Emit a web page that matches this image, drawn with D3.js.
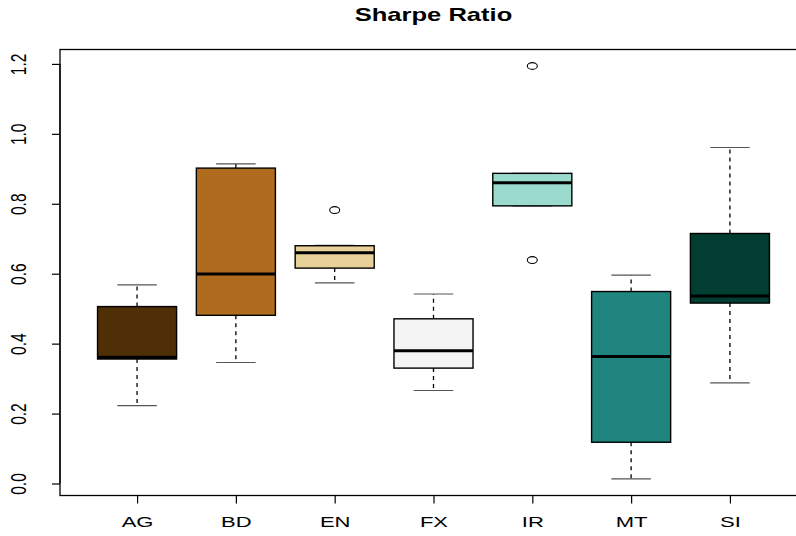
<!DOCTYPE html>
<html>
<head>
<meta charset="utf-8">
<script src="https://cdn.jsdelivr.net/npm/d3@7"></script>
<style>
  html, body { margin: 0; padding: 0; background: #fff; }
  svg { display: block; }
  text { font-family: "Liberation Sans", Arial, Helvetica, sans-serif; fill: #000; }
</style>
</head>
<body>
<svg id="chart" width="796" height="536"></svg>
<script>
// Sharpe ratio distribution per sector
const categories = ["AG", "BD", "EN", "FX", "IR", "MT", "SI"];
const whiskerLow = [0.223, 0.346, 0.574, 0.266, 0.794, 0.013, 0.288];
const q1         = [0.356, 0.481, 0.616, 0.330, 0.794, 0.118, 0.516];
const median     = [0.361, 0.599, 0.660, 0.380, 0.860, 0.363, 0.536];
const q3         = [0.506, 0.902, 0.680, 0.471, 0.887, 0.549, 0.715];
const whiskerHigh= [0.568, 0.914, 0.681, 0.542, 0.887, 0.596, 0.961];
const outliers   = [[], [], [0.782], [], [1.194, 0.639], [], []];
const fills = ["#4f3006", "#b06c1e", "#e7d199", "#f4f4f4", "#9adbcd", "#21857f", "#013d31"];
const yTicks = [0.0, 0.2, 0.4, 0.6, 0.8, 1.0, 1.2];
const title = "Sharpe Ratio";

const svg = d3.select("#chart");
const plotLeft = 60, plotRight = 807, plotTop = 49.5, plotBottom = 495.5;
const stretch = 1.42; // horizontal glyph stretch

// R-style 4% extended ranges
const x = d3.scaleLinear().domain([0.22, 7.78]).range([plotLeft, plotRight]);
const y = d3.scaleLinear().domain([-0.0343, 1.2412]).range([plotBottom, plotTop]);

const boxHalf = 0.4, stapleHalf = 0.2;

const g = svg.append("g");

categories.forEach((c, i) => {
  const cx = x(i + 1);
  const bx0 = x(i + 1 - boxHalf), bx1 = x(i + 1 + boxHalf);
  const sx0 = x(i + 1 - stapleHalf), sx1 = x(i + 1 + stapleHalf);
  const grp = g.append("g");

  // whiskers (dashed)
  grp.append("line")
    .attr("x1", cx).attr("x2", cx)
    .attr("y1", y(q3[i])).attr("y2", y(whiskerHigh[i]))
    .attr("stroke", "#000").attr("stroke-width", 1.3).attr("stroke-dasharray", "4,4");
  grp.append("line")
    .attr("x1", cx).attr("x2", cx)
    .attr("y1", y(q1[i])).attr("y2", y(whiskerLow[i]))
    .attr("stroke", "#000").attr("stroke-width", 1.3).attr("stroke-dasharray", "4,4");

  // staples
  [whiskerHigh[i], whiskerLow[i]].forEach(v => {
    grp.append("line")
      .attr("x1", sx0).attr("x2", sx1)
      .attr("y1", y(v)).attr("y2", y(v))
      .attr("stroke", "#555").attr("stroke-width", 1.2);
  });

  // box
  grp.append("rect")
    .attr("x", bx0).attr("y", y(q3[i]))
    .attr("width", bx1 - bx0).attr("height", y(q1[i]) - y(q3[i]))
    .attr("fill", fills[i]).attr("stroke", "#000").attr("stroke-width", 1.4);

  // median
  grp.append("line")
    .attr("x1", bx0).attr("x2", bx1)
    .attr("y1", y(median[i])).attr("y2", y(median[i]))
    .attr("stroke", "#000").attr("stroke-width", 3);

  // outliers
  outliers[i].forEach(v => {
    grp.append("ellipse")
      .attr("cx", cx).attr("cy", y(v))
      .attr("rx", 5).attr("ry", 3.4)
      .attr("fill", "none").attr("stroke", "#000").attr("stroke-width", 1.1);
  });
});

// frame
svg.append("rect")
  .attr("x", plotLeft).attr("y", plotTop)
  .attr("width", plotRight - plotLeft).attr("height", plotBottom - plotTop)
  .attr("fill", "none").attr("stroke", "#000").attr("stroke-width", 1.3);

// y axis
const yAxis = svg.append("g").attr("transform", `translate(${plotLeft},0)`)
  .call(d3.axisLeft(y).tickValues(yTicks).tickSize(8).tickFormat(d3.format(".1f")));
yAxis.select(".domain")
  .attr("d", `M0,${y(yTicks[0])}V${y(yTicks[yTicks.length - 1])}`)
  .attr("stroke", "#000").attr("stroke-width", 1.2);
yAxis.selectAll(".tick line").attr("stroke", "#000").attr("stroke-width", 1.2);
yAxis.selectAll(".tick text")
  .attr("x", null).attr("dy", null)
  .attr("transform", `translate(-42,0) scale(${stretch},1) rotate(-90)`)
  .attr("text-anchor", "middle").attr("dominant-baseline", "central")
  .style("font-size", "15.5px").style("font-family", "'Liberation Sans', Arial, sans-serif");

// x axis
const xAxis = svg.append("g").attr("transform", `translate(0,${plotBottom})`)
  .call(d3.axisBottom(x).tickValues(d3.range(1, categories.length + 1)).tickSize(8)
    .tickFormat(d => categories[d - 1]));
xAxis.select(".domain")
  .attr("d", `M${x(1)},0H${x(categories.length)}`)
  .attr("stroke", "#000").attr("stroke-width", 1.2);
xAxis.selectAll(".tick line").attr("stroke", "#000").attr("stroke-width", 1.2);
xAxis.selectAll(".tick text")
  .attr("y", null).attr("dy", null)
  .attr("transform", `translate(0,26) scale(${stretch},1)`)
  .attr("text-anchor", "middle").attr("dominant-baseline", "central")
  .style("font-size", "15.5px").style("font-family", "'Liberation Sans', Arial, sans-serif");

// title
svg.append("text")
  .attr("transform", `translate(${(plotLeft + plotRight) / 2},15) scale(${stretch},1)`)
  .attr("text-anchor", "middle").attr("dominant-baseline", "central")
  .style("font-size", "18px").style("font-weight", "bold")
  .text(title);
</script>
</body>
</html>
